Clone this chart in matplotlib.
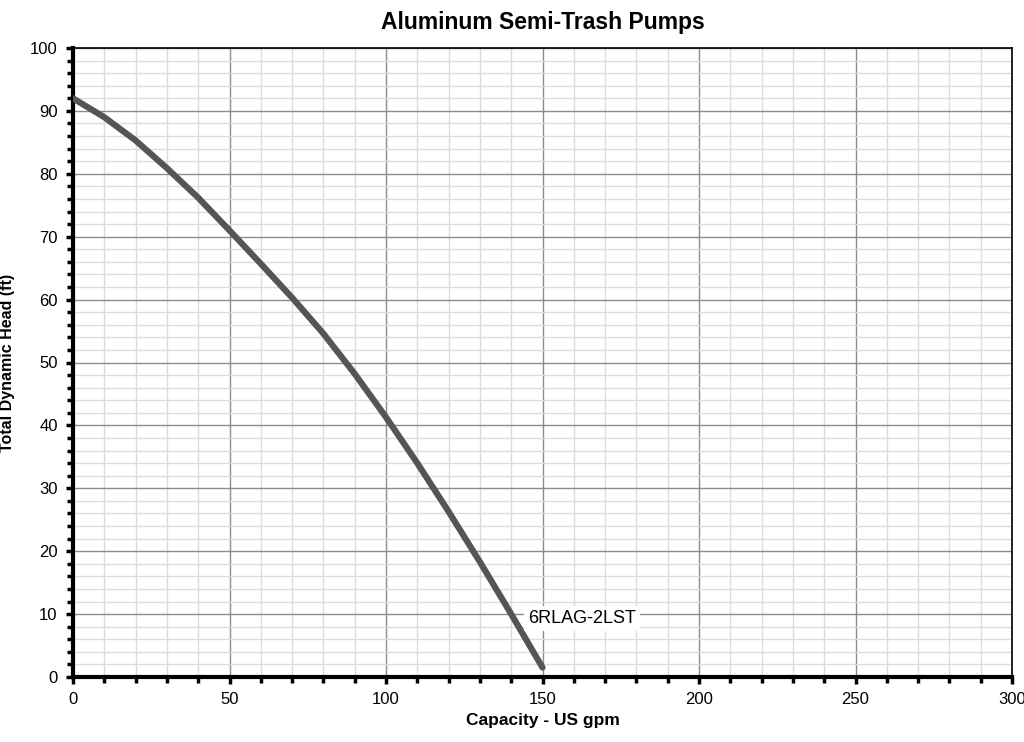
import matplotlib
matplotlib.use("Agg")
import matplotlib.pyplot as plt
from matplotlib.ticker import MultipleLocator

plt.rcParams['font.family'] = ['Liberation Sans', 'DejaVu Sans']

# pump curve
capacity = [0, 10, 20, 30, 40, 50, 60, 70, 80, 90, 100, 110, 120, 130, 140, 150]
head = [92, 89, 85.3, 80.9, 76.2, 71, 65.7, 60.3, 54.6, 48.2, 41.3, 34.0, 26.3, 18.3, 10.0, 1.5]
model = "6RLAG-2LST"

title = "Aluminum Semi-Trash Pumps"
x_label = "Capacity - US gpm"
y_label = "Total Dynamic Head (ft)"

fig = plt.figure(figsize=(10.24, 7.42), dpi=100)
ax = fig.add_axes([73 / 1024, 1 - 677 / 742, (1012 - 73) / 1024, (677 - 48) / 742])

ax.set_xlim(0, 300)
ax.set_ylim(0, 100)
ax.xaxis.set_major_locator(MultipleLocator(50))
ax.xaxis.set_minor_locator(MultipleLocator(10))
ax.yaxis.set_major_locator(MultipleLocator(10))
ax.yaxis.set_minor_locator(MultipleLocator(2))

ax.grid(which='minor', color='#dcdcdc', linewidth=1.0)
ax.grid(which='major', color='#8c8c8c', linewidth=1.0)
ax.set_axisbelow(True)

for s in ['left', 'bottom']:
    ax.spines[s].set_linewidth(3)
for s in ['top', 'right']:
    ax.spines[s].set_linewidth(1.2)

ax.tick_params(which='both', direction='out', width=2.5, labelsize=12, pad=6)
ax.tick_params(which='major', length=5)
ax.tick_params(which='minor', length=4)

ax.plot(capacity, head, color='#555555', linewidth=4.5, solid_capstyle='round',
        solid_joinstyle='round', zorder=3)

ax.text(145.3, 9.3, model, fontsize=13, va='center', ha='left', zorder=4,
        bbox=dict(facecolor='white', edgecolor='none', pad=3))

ax.set_title(title, fontsize=16.5, fontweight='bold', pad=14)
ax.set_xlabel(x_label, fontsize=12.5, fontweight='bold', labelpad=4)
ax.set_ylabel(y_label, fontsize=11.5, fontweight='bold')
ax.yaxis.set_label_coords(-0.062, 0.5)

fig.savefig("out.png", dpi=100)
